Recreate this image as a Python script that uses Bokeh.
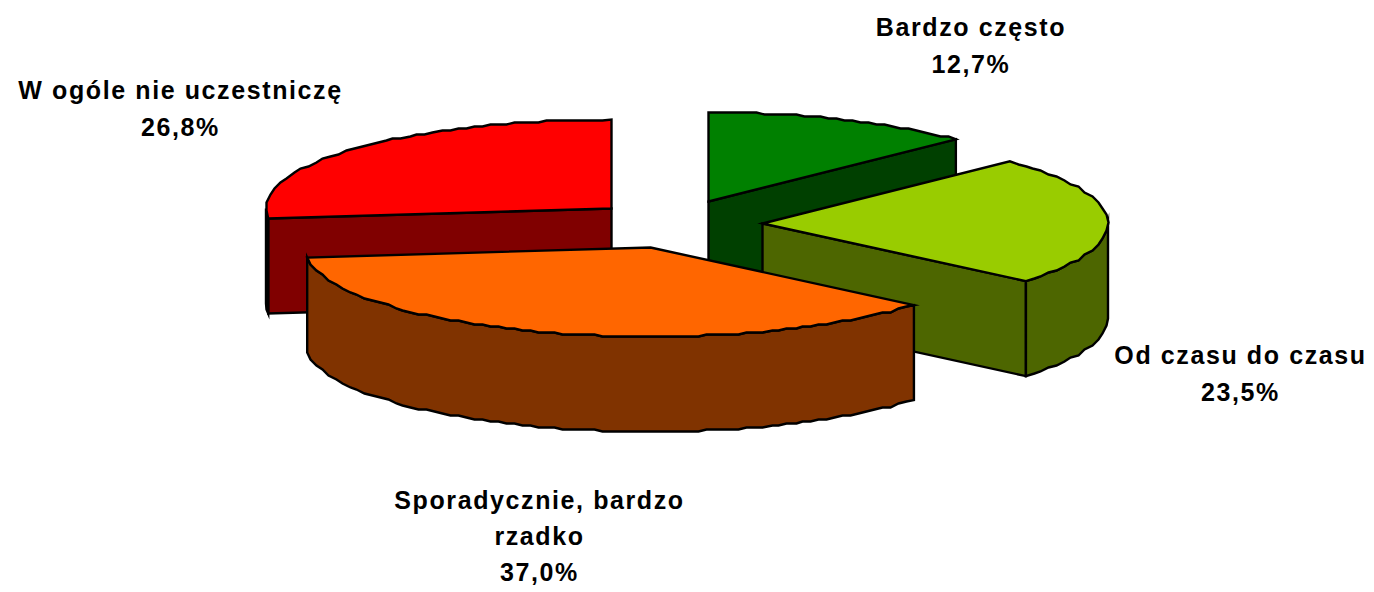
import numpy as np
from bokeh.plotting import figure
from bokeh.embed import file_html
from bokeh.resources import INLINE
from bokeh.core.properties import value

# --- data ---
categories = ["Bardzo często", "Od czasu do czasu", "Sporadycznie, bardzo\nrzadko", "W ogóle nie uczestniczę"]
shares = [12.7, 23.5, 37.0, 26.8]
share_labels = ["12,7%", "23,5%", "37,0%", "26,8%"]

# --- styles ---
top_colors = ["#008000", "#99CC00", "#FF6600", "#FF0000"]
wall_colors = ["#004000", "#4D6600", "#803300", "#800000"]

# --- layout (page pixels) ---
APEX = [(708, 201), (762, 223), (650, 247), (611, 208)]
RX, RY, DEPTH = 345.5, 89, 95
DRAW_ORDER = [0, 3, 1, 2]
LABEL_CENTER = [(970.5, 26.5, 36.5), (1240, 354.5, 36.5), (539, 499, 36), (180, 89, 37)]
STEP_PX, GRID_PX = 8, 2   # the source arcs are slightly stepped outlines
SPACING = 1.6

W, H = 1372, 590
p = figure(width=W, height=H, x_range=(0, W), y_range=(H, 0),
           output_backend="svg", toolbar_location=None, min_border=0)
p.axis.visible = False
p.grid.visible = False
p.outline_line_color = None
p.styles = {"letter-spacing": f"{SPACING}px"}


def pt(apex, deg):
    t = np.radians(deg)
    return apex[0] + RX * np.sin(t), apex[1] - RY * np.cos(t)


def arc(apex, lo, hi):
    """Outline of the ellipse between two angles, sampled coarsely and snapped to a grid."""
    d = np.linspace(lo, hi, 800)
    x, y = pt(apex, d)
    s = np.concatenate([[0], np.cumsum(np.hypot(np.diff(x), np.diff(y)))])
    n = max(2, int(s[-1] / STEP_PX))
    idx = np.searchsorted(s, np.linspace(0, s[-1], n + 1)).clip(0, len(s) - 1)
    ax, ay = x[idx], y[idx]
    sx, sy = np.round(ax / GRID_PX) * GRID_PX, np.round(ay / GRID_PX) * GRID_PX
    sx[0], sy[0], sx[-1], sy[-1] = ax[0], ay[0], ax[-1], ay[-1]
    return sx, sy


cum = np.concatenate([[0.0], np.cumsum(shares)]) / sum(shares) * 360
LW = 2.4

for i in DRAW_ORDER:
    a0, a1 = cum[i], cum[i + 1]
    ap = APEX[i]
    walls_x, walls_y = [], []
    for ang, vis in ((a1, np.sin(np.radians(a1)) > 1e-6), (a0, np.sin(np.radians(a0)) < -1e-6)):
        if vis:
            x, y = pt(ap, ang)
            walls_x.append([ap[0], x, x, ap[0]])
            walls_y.append([ap[1], y, y + DEPTH, ap[1] + DEPTH])
    lo, hi = max(a0, 90), min(a1, 270)
    if hi > lo:
        x, y = arc(ap, lo, hi)
        walls_x.append(list(x) + list(x[::-1]))
        walls_y.append(list(y) + list(y[::-1] + DEPTH))
    if walls_x:
        p.patches(walls_x, walls_y, fill_color=wall_colors[i], line_color="black",
                  line_width=LW, line_join="miter")
    x, y = arc(ap, a0, a1)
    p.patch([ap[0]] + list(x), [ap[1]] + list(y), fill_color=top_colors[i],
            line_color="black", line_width=LW, line_join="miter")

for i, (cx, cy, step) in enumerate(LABEL_CENTER):
    lines = categories[i].split("\n") + [share_labels[i]]
    # Bokeh centres on the width without the extra letter spacing: compensate per line
    xs = [cx - len(t) * SPACING / 2 for t in lines]
    p.text(xs, [cy + k * step for k in range(len(lines))], text=lines,
           text_font=value("Liberation Sans"), text_font_style="bold",
           text_font_size="25px", text_color="black",
           text_align="center", text_baseline="middle")

open("out.html", "w").write(file_html(p, INLINE))
